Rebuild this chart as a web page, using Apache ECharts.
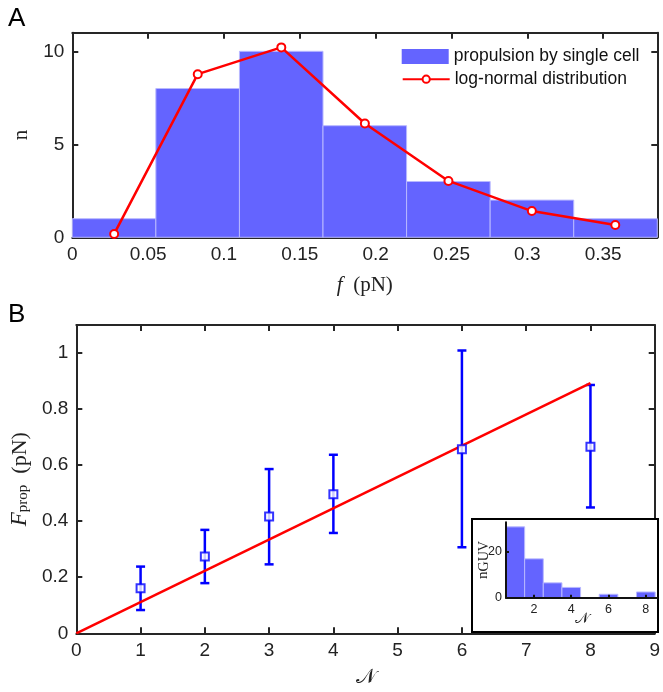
<!DOCTYPE html>
<html><head><meta charset="utf-8">
<script src="https://cdn.jsdelivr.net/npm/echarts@6/dist/echarts.min.js"></script>
<style>html,body{margin:0;padding:0;background:#fff}#c{width:663px;height:692px}</style>
</head><body><div id="c"></div>
<script>
// Panel A: histogram of single-cell propulsion force
const histEdges = [0, 0.0551, 0.1102, 0.1653, 0.2204, 0.2755, 0.3306, 0.3857];
const histCounts = [1, 8, 10, 6, 3, 2, 1];
// log-normal fit evaluated at bin centres
const fitX = [0.0276, 0.0827, 0.1378, 0.1929, 0.248, 0.303, 0.358];
const fitY = [0.18, 8.77, 10.21, 6.12, 3.03, 1.41, 0.66];
// Panel B: propulsion force vs number of cells
const cellN = [1, 2, 3, 4, 6, 8];
const forceMean = [0.161, 0.274, 0.417, 0.496, 0.657, 0.666];
const forceLow = [0.083, 0.179, 0.246, 0.358, 0.307, 0.449];
const forceHigh = [0.238, 0.369, 0.586, 0.637, 1.009, 0.886];
const lineN = [0, 8];
const lineF = [0, 0.893];
// Inset: number of GUVs per N
const insetN = [1, 2, 3, 4, 5, 6, 7, 8];
const insetCounts = [31, 17, 6.5, 4.5, 0, 1.5, 0, 2.5];
const insetTicks = [2, 4, 6, 8];

const AX = '#262626';
const SANS = 'Liberation Sans, Arial, Helvetica, sans-serif';
const SERIF = 'Liberation Serif, Times New Roman, serif';
const CAL = 'DejaVu Serif, DejaVu Sans, Noto Sans, serif';

const histData = histCounts.map((c, i) => [histEdges[i], histEdges[i + 1], c]);
const insetData = insetN.map((n, i) => [n - 0.5, n + 0.5, insetCounts[i]]);
const errData = cellN.map((n, i) => [n, forceLow[i], forceHigh[i]]);

function histItem(params, api) {
  const p0 = api.coord([api.value(0), api.value(2)]);
  const p1 = api.coord([api.value(1), 0]);
  return { type: 'rect', shape: { x: p0[0], y: p0[1], width: p1[0] - p0[0], height: p1[1] - p0[1] },
    style: { fill: '#6464ff', stroke: '#b8b8ff', lineWidth: 1 } };
}
function errItem(params, api) {
  const x = api.value(0);
  const pl = api.coord([x, api.value(1)]), ph = api.coord([x, api.value(2)]);
  const w = 4.5, st = { stroke: '#0000ff', lineWidth: 2.5 };
  return { type: 'group', children: [
    { type: 'line', shape: { x1: pl[0], y1: pl[1], x2: ph[0], y2: ph[1] }, style: st },
    { type: 'line', shape: { x1: pl[0] - w, y1: pl[1], x2: pl[0] + w, y2: pl[1] }, style: st },
    { type: 'line', shape: { x1: ph[0] - w, y1: ph[1], x2: ph[0] + w, y2: ph[1] }, style: st }
  ] };
}

function axisBase(extra, showMax) {
  return Object.assign({
    type: 'value',
    axisLine: { show: true, onZero: false, lineStyle: { color: AX, width: 2 } },
    axisTick: { show: true, inside: true, length: 6, lineStyle: { color: AX, width: 2 } },
    axisLabel: { show: true, color: '#222', fontFamily: SANS, fontSize: 19, margin: 8, showMaxLabel: !!showMax },
    splitLine: { show: false }
  }, extra);
}
function mirror(extra) {
  const a = axisBase(extra);
  a.axisLabel = { show: false };
  return a;
}

const option = {
  animation: false,
  backgroundColor: '#fff',
  grid: [
    { left: 72.3, top: 32.7, width: 585, height: 204.6 },
    { left: 72.3, top: 325, width: 585.4, height: 308.3 },
    { left: 506, top: 522.3, width: 151, height: 75.4 }
  ],
  xAxis: [
    axisBase({ gridIndex: 0, min: 0, max: 0.3857, interval: 0.05,
      name: '{i|f}{r|  (pN)}', nameLocation: 'middle', nameGap: 38,
      nameTextStyle: { rich: { i: { fontFamily: SERIF, fontStyle: 'italic', fontSize: 21, color: '#222' },
                               r: { fontFamily: SERIF, fontSize: 21, color: '#222' } } } }),
    mirror({ gridIndex: 0, position: 'top', min: 0, max: 0.3857, interval: 0.05 }),
    axisBase({ gridIndex: 1, min: 0, max: 9, interval: 1,
      name: '𝒩', nameLocation: 'middle', nameGap: 34,
      nameTextStyle: { fontFamily: CAL, fontSize: 21, color: '#222' } }, true),
    mirror({ gridIndex: 1, position: 'top', min: 0, max: 9, interval: 1 }),
    {
      type: 'value', gridIndex: 2, min: 0.5, max: 8.6, z: 20,
      axisLine: { show: true, onZero: false, lineStyle: { color: '#111', width: 2 } },
      axisTick: { show: true, inside: true, length: 3, customValues: insetTicks, lineStyle: { color: '#111', width: 2 } },
      axisLabel: { show: true, customValues: insetTicks, color: '#222', fontFamily: SANS, fontSize: 12.5, margin: 5 },
      splitLine: { show: false },
      name: '𝒩', nameLocation: 'middle', nameGap: 14, nameMoveOverlap: false,
      nameTextStyle: { fontFamily: CAL, fontSize: 15, color: '#222' }
    }
  ],
  yAxis: [
    axisBase({ gridIndex: 0, min: 0, max: 11, interval: 5,
      name: 'n', nameLocation: 'middle', nameGap: 34, nameRotate: 90,
      nameTextStyle: { fontFamily: SERIF, fontSize: 21, color: '#222' } }),
    mirror({ gridIndex: 0, position: 'right', min: 0, max: 11, interval: 5 }),
    axisBase({ gridIndex: 1, min: 0, max: 1.1, interval: 0.2,
      name: '{i|F}{s|prop}{r|  (pN)}', nameLocation: 'middle', nameGap: 40, nameRotate: 90,
      nameTextStyle: { rich: {
        i: { fontFamily: SERIF, fontStyle: 'italic', fontSize: 23, color: '#222', verticalAlign: 'bottom', lineHeight: 28 },
        s: { fontFamily: SERIF, fontSize: 15, color: '#222', verticalAlign: 'bottom', lineHeight: 20 },
        r: { fontFamily: SERIF, fontSize: 22, color: '#222', verticalAlign: 'bottom', lineHeight: 28 } } } }),
    mirror({ gridIndex: 1, position: 'right', min: 0, max: 1.1, interval: 0.2 }),
    {
      type: 'value', gridIndex: 2, min: 0, max: 33, z: 20,
      axisLine: { show: true, onZero: false, lineStyle: { color: '#111', width: 2 } },
      axisTick: { show: true, inside: true, length: 3, customValues: [0, 20], lineStyle: { color: '#111', width: 2 } },
      axisLabel: { show: true, customValues: [0, 20], color: '#222', fontFamily: SANS, fontSize: 12.5, margin: 4 },
      splitLine: { show: false },
      name: '{n|n}{s|GUV}', nameLocation: 'middle', nameGap: 15, nameRotate: 90, nameMoveOverlap: false,
      nameTextStyle: { rich: {
        n: { fontFamily: SERIF, fontSize: 15, color: '#222', verticalAlign: 'bottom', lineHeight: 20 },
        s: { fontFamily: SERIF, fontSize: 14, color: '#222', verticalAlign: 'bottom', lineHeight: 14 } } }
    }
  ],
  legend: [
    {
      left: 401.7, top: 47.5, orient: 'vertical', padding: 0,
      itemWidth: 47, itemHeight: 15,
      textStyle: { fontFamily: SANS, fontSize: 17.5, color: '#111', lineHeight: 18 },
      data: [{ name: 'propulsion by single cell', icon: 'rect' }]
    },
    {
      left: 401.7, top: 70.2, orient: 'vertical', padding: 0,
      itemWidth: 47, itemHeight: 9,
      textStyle: { fontFamily: SANS, fontSize: 17.5, color: '#111', lineHeight: 18 },
      data: [{ name: 'log-normal distribution' }]
    }
  ],
  graphic: [
    { type: 'text', left: 8, top: 6, style: { text: 'A', font: '26px Liberation Sans, Arial, sans-serif', fill: '#000' } },
    { type: 'text', left: 8, top: 302, style: { text: 'B', font: '26px Liberation Sans, Arial, sans-serif', fill: '#000' } },
    { type: 'rect', z: 10, shape: { x: 472, y: 519, width: 186, height: 113 },
      style: { fill: '#fff', stroke: '#000', lineWidth: 2 } }
  ],
  series: [
    { name: 'propulsion by single cell', type: 'custom', xAxisIndex: 0, yAxisIndex: 0,
      renderItem: histItem, data: histData, encode: { x: [0, 1], y: 2 },
      itemStyle: { color: '#6464ff' } },
    { name: 'log-normal distribution', type: 'line', xAxisIndex: 0, yAxisIndex: 0,
      data: fitX.map((x, i) => [x, fitY[i]]), symbol: 'emptyCircle', symbolSize: 8,
      lineStyle: { color: '#ff0000', width: 2.5 }, itemStyle: { color: '#ff0000', borderWidth: 1.5 } },
    { name: 'fit', type: 'line', xAxisIndex: 2, yAxisIndex: 2,
      data: lineN.map((n, i) => [n, lineF[i]]), symbol: 'none',
      lineStyle: { color: '#ff0000', width: 2.5 } },
    { name: 'err', type: 'custom', xAxisIndex: 2, yAxisIndex: 2,
      renderItem: errItem, data: errData, encode: { x: 0, y: [1, 2] } },
    { name: 'mean', type: 'scatter', xAxisIndex: 2, yAxisIndex: 2,
      data: cellN.map((n, i) => [n, forceMean[i]]), symbol: 'emptyRect', symbolSize: 8,
      itemStyle: { color: '#0000ff', borderColor: '#0000ff', borderWidth: 1.8 }, z: 5 },
    { name: 'inset', type: 'custom', xAxisIndex: 4, yAxisIndex: 4, z: 19,
      renderItem: histItem, data: insetData, encode: { x: [0, 1], y: 2 } }
  ]
};
const chart = echarts.init(document.getElementById('c'), null, { renderer: 'canvas' });
chart.setOption(option);
</script></body></html>
